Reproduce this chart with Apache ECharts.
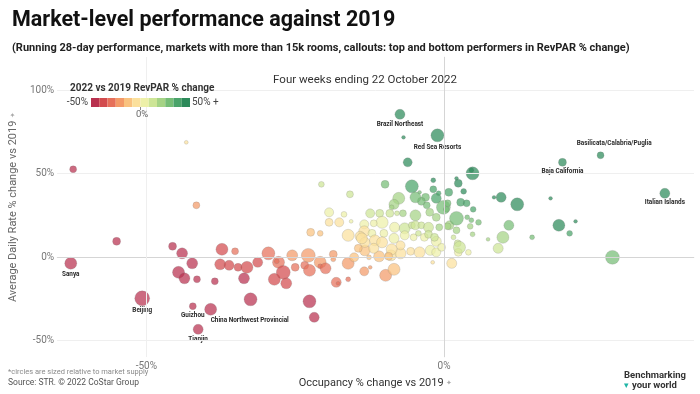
<!DOCTYPE html>
<html>
<head>
<meta charset="utf-8">
<script src="https://cdn.jsdelivr.net/npm/echarts@6/dist/echarts.min.js"></script>
<style>
  html, body { margin: 0; padding: 0; background: #fff; }
  #chart { width: 700px; height: 394px; }
</style>
</head>
<body>
<div id="chart"></div>
<script>
// ---------------- DATA ----------------
// Occupancy % change vs 2019 (x), ADR % change vs 2019 (y), market supply in thousand rooms (size)
const occupancy = [
  -62.3,-55.0,-43.3,-41.6,-45.6,-44.0,-42.3,-44.6,-43.6,-41.5,
  -38.5,-37.3,-35.1,-37.6,-36.1,-34.6,-33.1,-33.6,-31.3,-32.5,
  -29.5,-27.8,-28.1,-28.5,-27.0,-26.5,-25.5,-25.0,-23.4,-22.8,
  -22.6,-22.6,-21.8,-20.8,-20.8,-19.9,-18.6,-18.6,-18.1,-17.8,
  -16.1,-16.1,-15.1,-13.4,-12.4,-13.3,-9.8,-8.4,-8.9,-7.3,
  -5.6,-4.1,-2.3,-1.9,1.3,2.4,-12.6,-22.4,-20.8,-16.1,
  -20.6,-19.3,-16.8,-19.3,-17.6,-15.6,-15.8,-9.9,-5.4,-1.8,
  -4.1,-3.1,-1.3,-0.9,-7.6,-8.4,-8.8,-3.8,-2.9,-0.1,
  0.6,-4.8,-7.9,-6.9,-9.1,-12.4,-10.8,-10.4,-13.4,-11.8,
  -8.3,-6.6,-5.4,-4.8,-3.8,-2.6,-0.8,-1.3,0.9,-13.4,
  -14.1,-12.1,-10.1,-11.6,-13.3,-10.4,-8.4,-6.6,-5.1,-4.3,
  -3.3,-2.6,-1.3,-7.3,-8.8,-9.3,-10.9,-11.8,-14.4,-13.8,
  -1.3,-0.4,4.8,4.6,-6.1,2.1,2.4,-1.8,3.3,0.8,
  -4.8,2.8,3.8,4.9,2.1,0.4,-2.4,3.9,4.6,5.8,
  4.4,0.6,2.1,4.8,1.6,2.3,2.6,4.1,-1.6,9.6,
  8.4,12.3,10.9,9.9,9.1,7.4,17.9,19.3,22.1,21.1,
  14.8,28.3,-6.8
];
const adr = [
  52.6,9.4,68.8,31.0,6.4,2.2,-3.8,-9.2,-12.8,-13.4,
  -14.6,4.6,3.4,-4.4,-5.0,-6.2,-6.2,-12.8,-3.2,-25.4,
  2.2,-3.2,-2.6,-13.4,-9.2,-15.8,1.0,-6.2,-5.0,1.0,
  -8.0,-26.6,-36.2,-3.2,-5.6,-6.8,1.6,-1.4,-15.2,-15.8,
  -13.4,-3.8,-0.2,-8.6,-6.2,4.0,-11.0,-7.4,1.0,2.2,
  3.4,2.8,4.0,-3.2,-3.8,2.8,-0.2,14.8,14.2,13.0,
  43.6,26.8,25.6,20.8,20.8,21.4,37.6,43.6,42.4,46.0,
  38.8,35.8,35.2,38.2,35.2,31.6,29.8,33.4,31.0,29.8,
  32.2,25.0,26.2,26.2,26.2,26.2,26.2,20.8,19.6,20.2,
  17.8,17.2,19.0,19.0,19.0,17.8,17.8,23.8,19.0,15.4,
  12.4,14.2,14.2,10.0,8.8,8.8,11.2,13.0,11.8,14.2,
  11.8,13.6,9.4,7.0,4.6,0.4,0.4,5.2,5.2,11.2,
  2.8,5.8,50.2,52.0,56.8,47.2,44.2,40.6,39.4,38.8,
  35.8,32.8,32.2,28.6,23.2,28.6,26.8,23.8,22.0,20.8,
  18.4,18.4,16.0,13.6,11.8,8.2,5.8,2.8,11.8,35.8,
  35.8,31.6,19.0,11.8,5.2,10.6,35.2,19.0,21.4,14.2,
  11.8,-0.2,71.8
];
const supply = [
  10,13,3,10,13,25,25,30,25,10,
  10,30,10,25,21,13,30,25,21,35,
  35,30,5,30,40,25,25,13,13,40,
  30,35,21,30,5,25,13,5,21,3,
  5,30,17,17,3,25,30,30,25,25,
  13,25,21,3,21,13,5,13,7,30,
  7,17,7,13,17,3,10,13,35,5,
  3,13,21,5,30,21,5,13,10,40,
  10,25,5,10,13,17,13,30,17,10,
  21,25,10,17,10,21,10,13,17,25,
  21,13,13,25,21,25,21,17,10,7,
  13,13,21,17,25,13,25,21,13,25,
  17,13,35,5,17,3,13,10,7,13,
  25,13,10,7,40,7,13,5,5,7,
  7,10,10,5,5,10,30,7,13,21,
  3,35,21,30,21,3,3,30,3,7,
  5,40,3
];

// Callouts: top and bottom performers in RevPAR % change
const calloutNames = ['Sanya','Beijing','Guizhou','Tianjin','China Northwest Provincial',
  'Brazil Northeast','Red Sea Resorts','Basilicata/Calabria/Puglia','Baja California','Italian Islands'];
const calloutOccupancy = [-62.7,-50.7,-42.2,-41.3,-39.2,-7.4,-1.1,26.3,19.9,37.1];
const calloutAdr = [-3.8,-24.8,-29.5,-43.4,-31.4,85.6,73.0,61.0,56.8,38.2];
const calloutSupply = [30,46,10,21,30,21,35,10,13,21];

// Axis ticks
const xTicks = [-50, 0];
const yTicks = [-50, 0, 50, 100];

// RevPAR colour legend (stepped, -50% .. +50%)
const legendColors = ['#b8314f','#d24b4e','#e6705a','#f39a68','#f9c27f','#fbe09c',
  '#edf0a8','#cde596','#a5d385','#76bd76','#4aa36a','#2c8a5a'];
const legendMin = -50, legendMax = 50;

// ---------------- CHART ----------------
const FONT = 'Roboto, "Noto Sans", sans-serif';
// RevPAR = Occupancy x ADR  ->  RevPAR % change from the two % changes
function revpar(o, a) { return ((1 + o / 100) * (1 + a / 100) - 1) * 100; }

const mainData = occupancy.map((o, i) => [o, adr[i], supply[i], revpar(o, adr[i])]);

const labelPlacement = {
  'China Northwest Provincial': { position: 'bottom', align: 'left', distance: 2 },
  'Basilicata/Calabria/Puglia': { position: [17.5, -8.5], align: 'center', verticalAlign: 'middle' },
  'Italian Islands': { position: 'bottom', distance: 1 },
  'Beijing': { position: 'bottom', distance: 1.5 }
};
const calloutData = calloutNames.map((n, i) => {
  const o = calloutOccupancy[i], a = calloutAdr[i];
  const lp = labelPlacement[n] || { position: 'bottom', distance: 2 };
  return { name: n, value: [o, a, calloutSupply[i], revpar(o, a)], label: Object.assign({ show: true }, lp) };
});

const step = (legendMax - legendMin) / legendColors.length;
const pieces = legendColors.map((c, k) => {
  const p = { color: c };
  if (k > 0) p.gte = legendMin + k * step;
  if (k < legendColors.length - 1) p.lt = legendMin + (k + 1) * step;
  return p;
});

const sizeOf = v => 2.2 * Math.sqrt(v[2]);
const gridLines = [];
yTicks.forEach(v => gridLines.push({ yAxis: v, lineStyle: { color: v === 0 ? '#d5d5d5' : '#efefef' } }));
xTicks.forEach(v => gridLines.push({ xAxis: v, lineStyle: { color: v === 0 ? '#d5d5d5' : '#efefef' } }));

const chart = echarts.init(document.getElementById('chart'), null, { renderer: 'canvas' });
chart.setOption({
  animation: false,
  textStyle: { fontFamily: FONT },
  title: [
    { text: 'Market-level performance against 2019', left: 7, top: 5,
      textStyle: { fontFamily: FONT, fontSize: 21.5, fontWeight: 'bold', color: '#111' } },
    { text: '(Running 28-day performance, markets with more than 15k rooms, callouts: top and bottom performers in RevPAR % change)',
      left: 7, top: 38, textStyle: { fontFamily: FONT, fontSize: 11, fontWeight: 'bold', color: '#222' } },
    { text: 'Four weeks ending 22 October 2022', left: 360, textAlign: 'center', top: 69,
      textStyle: { fontFamily: FONT, fontSize: 11.5, fontWeight: 'normal', color: '#333' } }
  ],
  grid: { left: 52, right: 6, top: 57, bottom: 37 },
  xAxis: {
    type: 'value', min: -65, max: 42, interval: 5,
    axisLine: { show: true, lineStyle: { color: '#eeeeee' } },
    axisTick: { show: false }, splitLine: { show: false },
    axisLabel: { interval: 0, color: '#777', fontSize: 10, margin: 4,
      formatter: v => xTicks.includes(v) ? v + '%' : '' },
    name: 'Occupancy % change vs 2019 {p|✦}', nameLocation: 'middle', nameGap: 21,
    nameTextStyle: { color: '#333', fontSize: 11, fontFamily: FONT,
      rich: { p: { color: '#aaa', fontSize: 7 } } }
  },
  yAxis: {
    type: 'value', min: -60, max: 120, interval: 10,
    axisLine: { show: true, lineStyle: { color: '#eeeeee' } },
    axisTick: { show: false }, splitLine: { show: false },
    axisLabel: { interval: 0, color: '#777', fontSize: 10, margin: 3,
      formatter: v => yTicks.includes(v) ? v + '%' : '' },
    name: 'Average Daily Rate % change vs 2019 {p|✦}', nameLocation: 'middle', nameGap: 35,
    nameTextStyle: { color: '#666', fontSize: 11, fontFamily: FONT,
      rich: { p: { color: '#aaa', fontSize: 7 } } }
  },
  visualMap: {
    type: 'piecewise', dimension: 3, seriesIndex: [1, 2], z: 10,
    orient: 'horizontal', left: 91, top: 98, padding: 0,
    itemWidth: 99 / legendColors.length, itemHeight: 9, itemGap: 0,
    itemSymbol: 'rect', showLabel: false, selectedMode: false,
    pieces: pieces
  },
  graphic: [
    { type: 'rect', z: 5, shape: { x: 62, y: 82, width: 165, height: 36 }, style: { fill: '#fff' } },
    { type: 'text', z: 6, left: 70, top: 83, style: { text: '2022 vs 2019 RevPAR % change', fontFamily: FONT,
        fontSize: 10, fontWeight: 'bold', fill: '#333' } },
    { type: 'text', z: 6, right: 700 - 88, top: 97, style: { text: '-50%', fontFamily: FONT, fontSize: 10, fill: '#444', align: 'right' } },
    { type: 'text', z: 6, left: 192, top: 97, style: { text: '50% +', fontFamily: FONT, fontSize: 10, fill: '#444' } },
    { type: 'line', z: 6, shape: { x1: 140.5, y1: 107, x2: 140.5, y2: 110 }, style: { stroke: '#888', lineWidth: 1 } },
    { type: 'text', z: 6, left: 136, top: 110, style: { text: '0%', fontFamily: FONT, fontSize: 9.5, fill: '#666' } },
    { type: 'text', left: 8, top: 368, style: { text: '*circles are sized relative to market supply', fontFamily: FONT, fontSize: 7.5, fill: '#8a8a8a' } },
    { type: 'text', left: 8, top: 378, style: { text: 'Source: STR. © 2022 CoStar Group', fontFamily: FONT, fontSize: 8.5, fill: '#555' } },
    { type: 'text', left: 624, top: 371, style: { text: 'Benchmarking', fontFamily: FONT, fontSize: 9.5, fontWeight: 'bold', fill: '#333' } },
    { type: 'text', left: 624, top: 381, style: { text: '▾', fontFamily: 'DejaVu Sans', fontSize: 9, fill: '#1fb5a6' } },
    { type: 'text', left: 632, top: 381, style: { text: 'your world', fontFamily: FONT, fontSize: 9.5, fontWeight: 'bold', fill: '#333' } }
  ],
  series: [
    { type: 'scatter', data: [], z: 1, silent: true,
      markLine: { silent: true, symbol: 'none', label: { show: false },
        lineStyle: { type: 'solid', width: 1 }, data: gridLines } },
    { type: 'scatter', z: 2, data: mainData, symbolSize: sizeOf,
      itemStyle: { opacity: 0.72, borderColor: 'rgba(110,110,110,0.35)', borderWidth: 0.8 } },
    { type: 'scatter', z: 3, data: calloutData, symbolSize: sizeOf,
      itemStyle: { opacity: 0.72, borderColor: 'rgba(110,110,110,0.35)', borderWidth: 0.8 },
      labelLayout: { hideOverlap: false },
      label: { show: true, formatter: '{b}', fontSize: 6.4, fontWeight: 'bold', color: '#2a2a2a',
        opacity: 1, textBorderWidth: 0, fontFamily: FONT } }
  ]
});
</script>
</body>
</html>
